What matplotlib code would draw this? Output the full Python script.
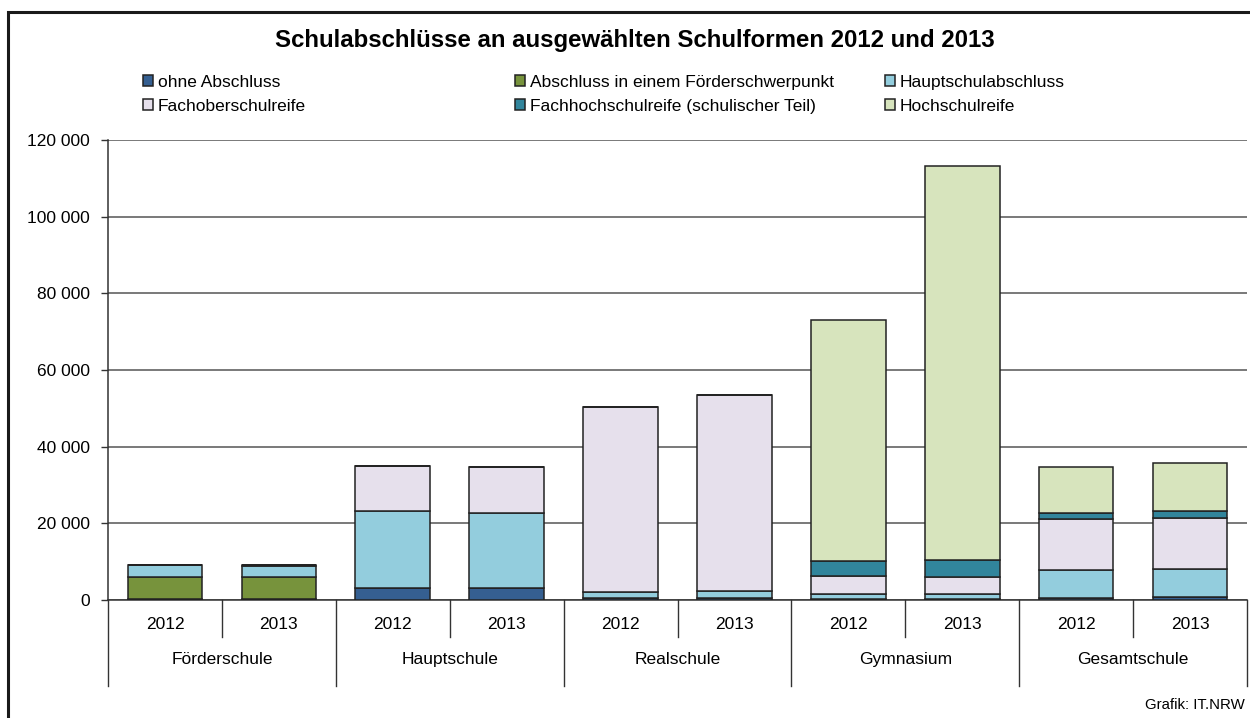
"""Schulabschlüsse an ausgewählten Schulformen 2012 und 2013 (gestapelte Säulen)."""

import matplotlib

matplotlib.use("Agg")
import matplotlib.pyplot as plt
import matplotlib.transforms as mtransforms
import numpy as np
from matplotlib.patches import Rectangle
from matplotlib.ticker import FuncFormatter

plt.rcParams["font.family"] = ["Liberation Sans", "DejaVu Sans"]

# --- data -----------------------------------------------------------------
school_types = ["Förderschule", "Hauptschule", "Realschule", "Gymnasium", "Gesamtschule"]
years = ["2012", "2013"]

series_names = [
    "ohne Abschluss",
    "Abschluss in einem Förderschwerpunkt",
    "Hauptschulabschluss",
    "Fachoberschulreife",
    "Fachhochschulreife (schulischer Teil)",
    "Hochschulreife",
]
# order of bars: Förder 12, Förder 13, Haupt 12, Haupt 13, Real 12, Real 13, Gym 12, Gym 13, Gesamt 12, Gesamt 13
ohne_abschluss = [350, 350, 3050, 3200, 400, 400, 300, 300, 600, 700]
foerderschwerpunkt = [5550, 5550, 0, 0, 0, 0, 0, 0, 0, 0]
hauptschulabschluss = [3200, 3000, 20150, 19400, 1600, 1900, 1200, 1350, 7200, 7300]
fachoberschulreife = [150, 150, 11800, 12000, 48300, 51100, 4800, 4250, 13400, 13500]
fachhochschulreife = [0, 0, 0, 0, 0, 0, 3900, 4600, 1600, 1800]
hochschulreife = [0, 0, 0, 0, 0, 0, 62800, 102700, 12000, 12400]

series_colors = ["#355f91", "#77933c", "#93cddd", "#e6e0ec", "#31859c", "#d7e4bd"]


def main():
    fig = plt.figure(figsize=(12.5, 7.18), dpi=100)
    ax = fig.add_axes([108 / 1250, 1 - 600 / 718, (1247 - 108) / 1250, 460 / 718])

    # frame around the whole graphic
    fig.patches.append(Rectangle((8 / 1250, -0.05), 1.2, 1 - 12 / 718 + 0.05,
                                 transform=fig.transFigure, fill=False,
                                 edgecolor="#1a1a1a", linewidth=2.2))

    values = [ohne_abschluss, foerderschwerpunkt, hauptschulabschluss,
              fachoberschulreife, fachhochschulreife, hochschulreife]
    x = np.arange(len(school_types) * len(years))
    bottom = np.zeros(len(x))
    handles = []
    for name, vals, color in zip(series_names, values, series_colors):
        vals = np.array(vals, dtype=float)
        bars = ax.bar(x, vals, width=0.655, bottom=bottom, color=color,
                      edgecolor="#222222", linewidth=1.1, label=name, zorder=3)
        handles.append(bars)
        bottom += vals

    ax.set_xlim(-0.5, len(x) - 0.5)
    ax.set_ylim(0, 120000)
    ax.set_yticks(np.arange(0, 120001, 20000))
    ax.yaxis.set_major_formatter(FuncFormatter(lambda v, _: f"{v:,.0f}".replace(",", " ")))
    ax.tick_params(axis="y", length=5, width=1, color="#333333", labelsize=12.5, pad=8)
    ax.grid(axis="y", color="#555555", linewidth=1.1, zorder=0)
    for side in ["top", "right"]:
        ax.spines[side].set_visible(False)
    ax.spines["left"].set_color("#333333")
    ax.spines["bottom"].set_color("#333333")
    ax.spines["left"].set_linewidth(1.1)
    ax.spines["bottom"].set_linewidth(1.1)

    # two-level category axis
    ax.set_xticks(x)
    ax.set_xticklabels(years * len(school_types), fontsize=12.5)
    ax.tick_params(axis="x", length=0, pad=12)
    trans = mtransforms.blended_transform_factory(ax.transData, ax.transAxes)
    for i, name in enumerate(school_types):
        left = 2 * i - 0.5
        ax.plot([left, left], [0, -0.187], transform=trans, color="#333333",
                linewidth=1, clip_on=False)
        ax.plot([left + 1, left + 1], [0, -0.08], transform=trans, color="#333333",
                linewidth=1, clip_on=False)
        ax.text(2 * i + 0.5, -0.13, name, transform=trans, ha="center", va="center",
                fontsize=12.5)
    ax.plot([len(x) - 0.5] * 2, [0, -0.187], transform=trans, color="#333333",
            linewidth=1, clip_on=False)

    fig.text(0.508, 1 - 41 / 718, "Schulabschlüsse an ausgewählten Schulformen 2012 und 2013",
             ha="center", va="center", fontsize=17.3, fontweight="bold")

    # legend: three columns, filled row by row
    column_x = [143, 515, 885]
    for col, left in enumerate(column_x):
        idx = [col, col + 3]
        fig.legend([handles[i] for i in idx], [series_names[i] for i in idx],
                   loc="upper left", bbox_to_anchor=(left / 1250, 1 - 75 / 718),
                   frameon=False, fontsize=12.5, handlelength=0.6, handleheight=0.6,
                   handletextpad=0.25, labelspacing=0.5, borderpad=0, borderaxespad=0)

    fig.text(1245 / 1250, 1 - 705 / 718, "Grafik: IT.NRW", ha="right", va="center",
             fontsize=10.8)

    fig.savefig("out.png", dpi=100)
    plt.close(fig)


if __name__ == "__main__":
    main()
